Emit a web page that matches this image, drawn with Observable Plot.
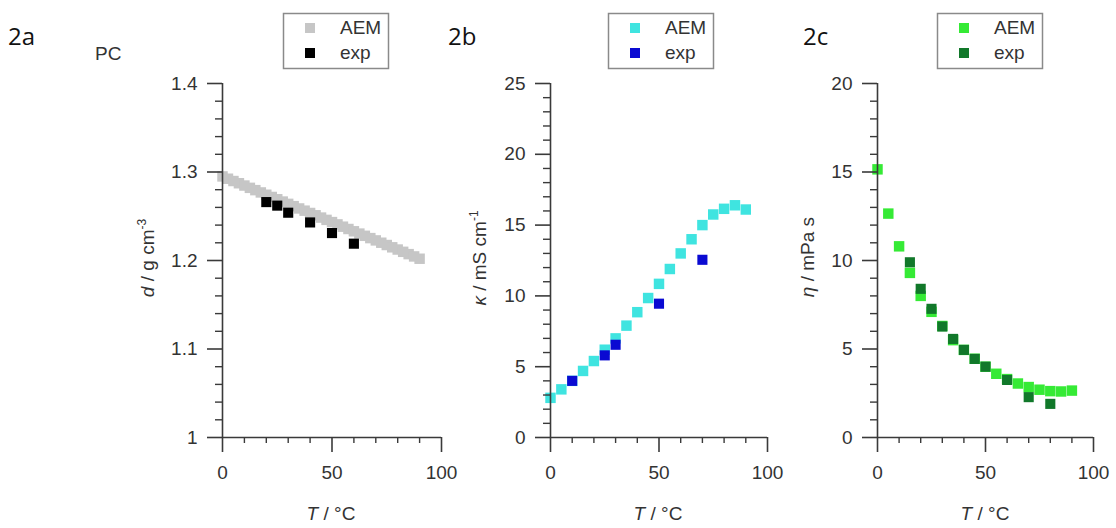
<!DOCTYPE html>
<html><head><meta charset="utf-8">
<script src="https://cdn.jsdelivr.net/npm/d3@7"></script>
<script src="https://cdn.jsdelivr.net/npm/@observablehq/plot@0.6"></script>
<style>
body{margin:0;background:#fff;}
#wrap{position:relative;width:1116px;height:528px;overflow:hidden;background:#fff;font-family:Arial, "Liberation Sans", Helvetica, sans-serif;}
.pnl{position:absolute;top:0;}
#overlay{position:absolute;left:0;top:0;pointer-events:none;}
#overlay text{font-family:Arial, "Liberation Sans", Helvetica, sans-serif;}
#overlay text.tag{font-family:"Open Sans", sans-serif;}
.pnl svg text{font-family:Arial, "Liberation Sans", Helvetica, sans-serif !important;}
</style>
</head><body>
<div id="wrap"></div>
<script>
// ---- Panel 2a: density of PC ----
const tA_AEM = [0,2.5,5,7.5,10,12.5,15,17.5,20,22.5,25,27.5,30,32.5,35,37.5,40,42.5,45,47.5,50,52.5,55,57.5,60,62.5,65,67.5,70,72.5,75,77.5,80,82.5,85,87.5,90];
const dA_AEM = [1.295,1.2924,1.2898,1.2873,1.2847,1.2821,1.2795,1.2769,1.2743,1.2718,1.2692,1.2666,1.264,1.2614,1.2588,1.2563,1.2537,1.2511,1.2485,1.2459,1.2434,1.2408,1.2382,1.2356,1.233,1.2304,1.2279,1.2253,1.2227,1.2201,1.2175,1.2149,1.2124,1.2098,1.2072,1.2046,1.202];
const tA_exp = [20,25,30,40,50,60];
const dA_exp = [1.266,1.262,1.254,1.243,1.231,1.219];
const yTicksA = [1,1.1,1.2,1.3,1.4];
const yTickLabelsA = ["1","1.1","1.2","1.3","1.4"];

// ---- Panel 2b: conductivity ----
const tB_AEM = [0,5,10,15,20,25,30,35,40,45,50,55,60,65,70,75,80,85,90];
const kB_AEM = [2.8,3.4,4.0,4.7,5.4,6.2,7.0,7.9,8.85,9.85,10.85,11.9,13.0,14.0,15.0,15.75,16.15,16.4,16.1];
const tB_exp = [10,25,30,50,70];
const kB_exp = [4.0,5.8,6.55,9.45,12.55];
const yTicksB = [0,5,10,15,20,25];

// ---- Panel 2c: viscosity ----
const tC_AEM = [0,5,10,15,20,25,30,35,40,45,50,55,60,65,70,75,80,85,90];
const eC_AEM = [15.15,12.65,10.8,9.3,8.0,7.1,6.3,5.5,4.95,4.45,4.0,3.6,3.3,3.05,2.85,2.7,2.62,2.6,2.65];
const tC_exp = [15,20,25,30,35,40,45,50,60,70,80];
const eC_exp = [9.9,8.4,7.27,6.27,5.57,4.95,4.44,4.0,3.25,2.28,1.9];
const yTicksC = [0,5,10,15,20];

const xTicks = [0,50,100];
const xTickLabels = ["0","50","100"];
const xMinor = [10,20,30,40,60,70,80,90];

const panelTags = ["2a","2b","2c"];
const seriesNames = ["AEM","exp"];
const colorsA = ["#c6c6c6","#000000"];
const colorsB = ["#3fe4e0","#0a0ad2"];
const colorsC = ["#35ea35","#11782a"];

const axisColor = "#3a3a3a";
const labelColor = "#333";
const FONT = "Arial, 'Liberation Sans', Helvetica, sans-serif";
const FS = 19;

function rangeStep(a,b,s){const r=[];for(let v=a;v<=b+1e-9;v+=s)r.push(+v.toFixed(4));return r;}

function panel({left, width, mL, mR, yDomain, yMajor, yMajorFmt, yMinorStep, aem, exp, colors}){
  const [x1,y1]=aem, [x2,y2]=exp;
  const aemData = x1.map((t,i)=>({t, v:y1[i]}));
  const expData = x2.map((t,i)=>({t, v:y2[i]}));
  const yMinor = rangeStep(yDomain[0], yDomain[1], yMinorStep).filter(v=>!yMajor.some(m=>Math.abs(m-v)<1e-9));
  const p = Plot.plot({
    width, height: 528,
    marginLeft: mL, marginRight: mR, marginTop: 83, marginBottom: 91,
    x: {domain:[0,100], axis:null},
    y: {domain:yDomain, axis:null},
    style: {fontFamily: FONT, fontSize: FS + "px", background: "transparent", overflow: "visible"},
    marks: [
      Plot.dot(aemData, {x:"t", y:"v", symbol:"square", r:5.9, fill:colors[0], stroke:"none"}),
      Plot.dot(expData, {x:"t", y:"v", symbol:"square", r:5.7, fill:colors[1], stroke:"none"}),
      Plot.ruleX([0], {stroke:axisColor, strokeWidth:1.6}),
      Plot.ruleY([yDomain[0]], {stroke:axisColor, strokeWidth:1.6}),
      Plot.axisY({ticks: yMajor, tickSize: 15, tickPadding: 10, tickFormat: yMajorFmt, stroke: axisColor, strokeWidth:1.6, fill: labelColor, fontSize: FS, label: null}),
      Plot.axisY({ticks: yMinor, tickSize: 7, tickFormat: () => "", stroke: axisColor, strokeWidth:1.4, label: null}),
      Plot.axisX({ticks: xTicks, tickSize: 15, tickPadding: 13, tickFormat: (d)=>xTickLabels[xTicks.indexOf(d)], stroke: axisColor, strokeWidth:1.6, fill: labelColor, fontSize: FS, label: null}),
      Plot.axisX({ticks: xMinor, tickSize: 6, tickFormat: () => "", stroke: axisColor, strokeWidth:1.4, label: null})
    ]
  });
  const div = document.createElement("div");
  div.className = "pnl";
  div.style.left = left + "px";
  div.appendChild(p);
  document.getElementById("wrap").appendChild(div);
}

panel({left:0, width:450, mL:222, mR:9, yDomain:[1,1.4], yMajor:yTicksA,
  yMajorFmt:(d)=>yTickLabelsA[yTicksA.findIndex(v=>Math.abs(v-d)<1e-9)], yMinorStep:0.02,
  aem:[tA_AEM,dA_AEM], exp:[tA_exp,dA_exp], colors:colorsA});
panel({left:450, width:328, mL:100, mR:11, yDomain:[0,25], yMajor:yTicksB,
  yMajorFmt:(d)=>String(d), yMinorStep:1,
  aem:[tB_AEM,kB_AEM], exp:[tB_exp,kB_exp], colors:colorsB});
panel({left:778, width:338, mL:99, mR:23, yDomain:[0,20], yMajor:yTicksC,
  yMajorFmt:(d)=>String(d), yMinorStep:1,
  aem:[tC_AEM,eC_AEM], exp:[tC_exp,eC_exp], colors:colorsC});

// ---- annotations: panel tags, legends, axis titles ----
const svg = d3.select("#wrap").append("svg").attr("id","overlay")
  .attr("width",1116).attr("height",528);

const tagX = [8, 448, 803];
panelTags.forEach((t,i)=>{
  svg.append("text").attr("class","tag").attr("x",tagX[i]).attr("y",45)
    .attr("font-size",24).attr("fill","#111").text(t);
});
svg.append("text").attr("x",95).attr("y",60).attr("font-size",FS).attr("fill",labelColor).text("PC");

const legendX = [283, 608, 937];
const legendColors = [colorsA, colorsB, colorsC];
legendX.forEach((lx,i)=>{
  const g = svg.append("g");
  g.append("rect").attr("x",lx+0.5).attr("y",13.5).attr("width",105).attr("height",55)
    .attr("fill","#fff").attr("stroke","#8a8a8a").attr("stroke-width",1.5);
  seriesNames.forEach((s,j)=>{
    const cy = 28 + j*25;
    g.append("rect").attr("x",lx+22).attr("y",cy-5).attr("width",10).attr("height",10).attr("fill",legendColors[i][j]);
    g.append("text").attr("x",lx+57).attr("y",cy+6).attr("font-size",FS).attr("fill",labelColor).text(s);
  });
});

// y-axis titles
const yTitles = [
  {x:147, y:258, parts:[["d","italic"],[" / g cm",null],["-3","sup"]]},
  {x:479, y:258, parts:[["κ","italic"],[" / mS cm",null],["-1","sup"]]},
  {x:807, y:257, parts:[["η","italic"],[" / mPa s",null]]}
];
yTitles.forEach(({x,y,parts})=>{
  const t = svg.append("text").attr("transform",`translate(${x},${y}) rotate(-90)`)
    .attr("text-anchor","middle").attr("dy","0.35em").attr("font-size",FS).attr("fill",labelColor);
  parts.forEach(([s,st])=>{
    const ts = t.append("tspan").text(s);
    if(st==="italic") ts.attr("font-style","italic");
    if(st==="sup") ts.attr("font-size",12).attr("dy","-0.6em");
  });
});

// x-axis titles
const xTitleX = [331, 658, 985];
xTitleX.forEach(x=>{
  const t = svg.append("text").attr("x",x).attr("y",520).attr("text-anchor","middle")
    .attr("font-size",FS).attr("fill",labelColor);
  t.append("tspan").attr("font-style","italic").text("T");
  t.append("tspan").text(" / °C");
});
</script>
</body></html>
